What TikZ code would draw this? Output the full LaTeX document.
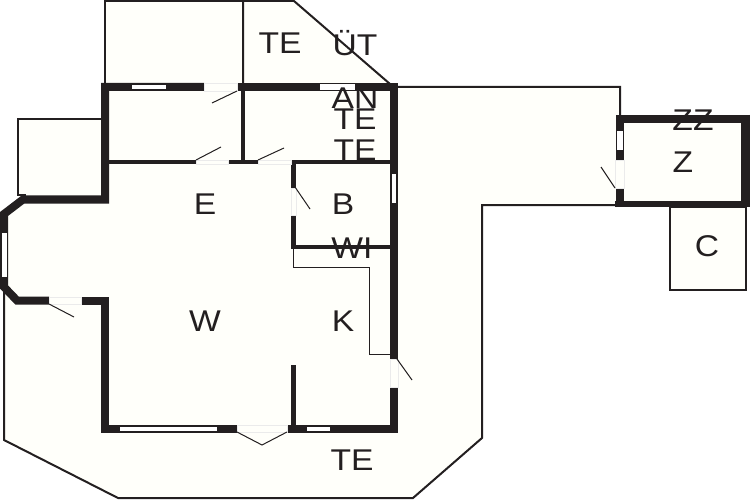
\documentclass[tikz,border=0pt]{standalone}
\usepackage{fontspec}
\setmainfont[FakeStretch=1.12]{Liberation Sans}
\definecolor{plancream}{HTML}{FFFFFA}
\definecolor{planink}{HTML}{231F20}
\tikzset{
  wallouter/.style={line width=8pt, color=planink, line join=miter},
  wallinner/.style={line width=4.5pt, color=planink},
  thinline/.style={line width=2pt, color=planink},
  swingline/.style={line width=1pt, color=planink},
  windowpane/.style={fill=white, draw=none},
  doorgap/.style={draw=black!8, line width=0.5pt, fill=plancream},
  roomlabel/.style={font=\fontsize{30}{30}\selectfont, text=planink, inner sep=0pt}
}
\begin{document}
\begin{tikzpicture}[x=1pt, y=-1pt]
		\useasboundingbox (0,0) rectangle (750,500);
		% terrace and outbuildings
		\draw [thinline, fill=plancream] (4,290) -- (4,440) -- (118,498) -- (413,498) -- (482,438) -- (482,205) -- (620,205) -- (620,87) -- (395,87) -- (395,300) -- (105,300) -- cycle;
		\draw [thinline, fill=plancream] (105,85) -- (105,1) -- (243,1) -- (243,85);
		\draw [thinline, fill=plancream] (243,85) -- (243,1) -- (294,1) -- (390,84);
		\fill [plancream] (17.5,119) rectangle (105,200);
		\draw [thinline] (105,119) -- (17.5,119) -- (17.5,195) -- (26,195);
		\draw [thinline, fill=plancream] (670,207) rectangle (746,290);
		% house floor
		\fill [plancream] (105,87) -- (394,87) -- (394,429) -- (105,429) -- (105,301) -- (15,301) -- (4,288) -- (4,214) -- (23,200) -- (105,200) -- cycle;
		% outer walls
		\draw [wallouter] (204,87) -- (105,87) -- (105,199.5) -- (23,199.5) -- (4,214) -- (4,287) -- (17,300.5) -- (49,300.5);
		\draw [wallouter] (237,87) -- (394,87) -- (394,359);
		\draw [wallouter] (394,387) -- (394,428.5) -- (287,428.5);
		\draw [wallouter] (237,428.5) -- (105,428.5) -- (105,300.5) -- (81,300.5);
		% inner walls
		\draw [wallinner] (243,87) -- (243,162);
		\draw [wallinner] (107,162) -- (196,162);
		\draw [wallinner] (228,162) -- (258,162);
		\draw [wallinner] (391,162) -- (293.5,162) -- (293.5,188);
		\draw [wallinner] (293.5,215) -- (293.5,247) -- (391,247);
		\draw [wallinner] (293.5,365) -- (293.5,426);
		% kitchen counter
		\draw [swingline] (293.5,249) -- (293.5,267) -- (369,267) -- (369,354) -- (390,354);
		% windows
		\fill [windowpane] (132,85) rectangle (166,89);
		\fill [windowpane] (320,84.5) rectangle (355,90);
		\fill [windowpane] (392,174) rectangle (396,203);
		\fill [windowpane] (2,233) rectangle (7,277);
		\fill [windowpane] (120,427) rectangle (217,431);
		\fill [windowpane] (307,427) rectangle (330,431);
		% door openings and leaves
		\draw [doorgap] (204,83) rectangle (237,91);
		\draw [doorgap] (196,160) rectangle (228,164);
		\draw [doorgap] (258,160) rectangle (291,164);
		\draw [doorgap] (291,188) rectangle (296,215);
		\draw [doorgap] (390,359) rectangle (398,387);
		\draw [doorgap] (237,425) rectangle (287,432);
		\draw [doorgap] (49,297) rectangle (81,304.5);
		\draw [swingline] (237,91) -- (212,103);
		\draw [swingline] (196,160) -- (221,147);
		\draw [swingline] (258,160) -- (284,148);
		\draw [swingline] (295,187) -- (310,209);
		\draw [swingline] (397,359) -- (412,380);
		\draw [swingline] (49,304) -- (74,317);
		\draw [swingline] (237,432) -- (262,445) -- (287,432);
		% garage
		\fill [plancream] (619,118) rectangle (745,204);
		\draw [wallouter] (619.5,160) -- (619.5,119) -- (745.5,119);
		\draw [line width=9pt, color=planink] (745.5,115) -- (745.5,207);
		\draw [line width=6.5pt, color=planink] (615,204) -- (750,204);
		\draw [wallouter] (619.5,207) -- (619.5,188);
		\fill [windowpane] (617,131) rectangle (622.5,150);
		\draw [doorgap] (615,160) rectangle (624,188);
		\draw [swingline] (615,188) -- (601,167);
		% labels
		\node [roomlabel] (teTop) at (280,43) {TE};
		\node [roomlabel] (utTop) at (355,43) {ÜT};
		\node [roomlabel] (anHall) at (355,98) {AN};
		\node [roomlabel] (teHallA) at (355,119) {TE};
		\node [roomlabel] (teHallB) at (355,150) {TE};
		\node [roomlabel] (eRoom) at (205,204) {E};
		\node [roomlabel] (bRoom) at (343,204) {B};
		\node [roomlabel] (wiRoom) at (352,248) {WI};
		\node [roomlabel] (wRoom) at (205,321) {W};
		\node [roomlabel] (kRoom) at (343,321) {K};
		\node [roomlabel] (teBottom) at (352,460) {TE};
		\node [roomlabel] (zzRoom) at (693,120) {ZZ};
		\node [roomlabel] (zRoom) at (683,162) {Z};
		\node [roomlabel] (cRoom) at (707,246) {C};
\end{tikzpicture}
\end{document}
